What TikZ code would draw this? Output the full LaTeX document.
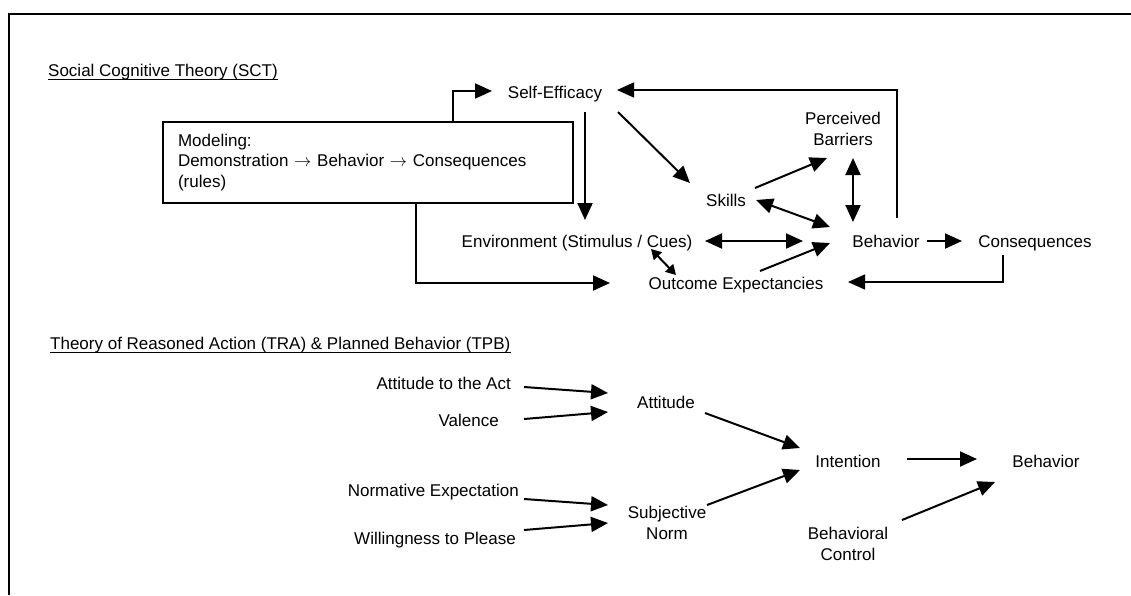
\documentclass[tikz,border=0pt]{standalone}
\usepackage{fontspec}
\setmainfont{Liberation Sans}
\usetikzlibrary{arrows.meta}
\begin{document}
\begin{tikzpicture}[x=1pt,y=-1pt,
  lbl/.style={font=\fontsize{17}{20}\selectfont, inner sep=0pt, text height=12.2pt, text depth=0pt},
  ml/.style={font=\fontsize{17}{21}\selectfont, inner sep=0pt, align=center},
  arr/.style={line width=2pt, -{Triangle[length=17pt,width=15pt]}},
  darr/.style={line width=2pt, {Triangle[length=17pt,width=15pt]}-{Triangle[length=17pt,width=15pt]}},
  smalldarr/.style={line width=2pt, {Triangle[length=10pt,width=11pt]}-{Triangle[length=10pt,width=11pt]}},
  thinarr/.style={line width=1.5pt, -{Triangle[length=17pt,width=15pt]}},
  ul/.style={line width=1.2pt},
  frame/.style={line width=2pt}]
\useasboundingbox (0,0) rectangle (1131,595);
\coordinate (fc) at (9,14);
\coordinate (fr) at (1131,14);
\coordinate (fb) at (9,595);
\draw[frame] (fr) -- (fc) -- (fb);

% ---------- SCT ----------
\node[lbl, anchor=west] (sct) at (48,70) {Social Cognitive Theory (SCT)};
\draw[ul] ([yshift=-3pt]sct.base west) -- ([yshift=-3pt]sct.base east);

\node[lbl] (se) at (555,92) {Self-Efficacy};
\node[draw, line width=2pt, minimum width=410pt, minimum height=81pt, text width=380pt,
      align=left, inner sep=0pt, font=\fontsize{17}{20.5}\selectfont] (model) at (368,162.5)
  {Modeling:\\Demonstration $\rightarrow$ Behavior $\rightarrow$ Consequences\\(rules)};
\node[lbl] (env) at (577,241) {Environment (Stimulus / Cues)};
\node[lbl] (out) at (736,283) {Outcome Expectancies};
\node[lbl] (skills) at (726,200) {Skills};
\node[ml] (pb) at (843,129) {Perceived\\Barriers};
\node[lbl] (beh) at (886,241) {Behavior};
\node[lbl] (cons) at (1035,241) {Consequences};

\draw[arr] ([shift={(85,0)}]model.north) |- ([shift={(-63,-1)}]se.center);
\draw[arr] ([shift={(30,20)}]se.center) -- ([shift={(8,-21)}]env.center);
\draw[arr] ([shift={(48,0)}]model.south) |- ([shift={(-126,0)}]out.center);
\draw[arr] ([shift={(63,20)}]se.center) -- ([shift={(-36,-17)}]skills.center);
\draw[arr] ([shift={(29,-12)}]skills.center) -- ([shift={(-16,29)}]pb.center);
\draw[darr] ([shift={(30,0)}]skills.center) -- ([shift={(-56,-14)}]beh.center);
\draw[darr] ([shift={(10,29)}]pb.center) -- ([shift={(-33,-19)}]beh.center);
\draw[darr] ([shift={(128,0)}]env.center) -- ([shift={(-83,0)}]beh.center);
\draw[arr] ([shift={(24,-12)}]out.center) -- ([shift={(-56,2)}]beh.center);
\draw[smalldarr] ([shift={(74,8)}]env.center) -- ([shift={(-60,-8)}]out.center);
\draw[arr] ([shift={(41,0)}]beh.center) -- ([shift={(-73,0)}]cons.center);
\draw[thinarr] ([shift={(-32,14)}]cons.center) |- ([shift={(112,-1)}]out.center);
\draw[thinarr] ([shift={(11,-23)}]beh.center) |- ([shift={(62,-2)}]se.center);

% ---------- TRA / TPB ----------
\node[lbl, anchor=west] (tra) at (50,343) {Theory of Reasoned Action (TRA) \& Planned Behavior (TPB)};
\draw[ul] ([yshift=-3pt]tra.base west) -- ([yshift=-3pt]tra.base east);

\node[lbl, anchor=east] (a2a) at (511,383) {Attitude to the Act};
\node[lbl, anchor=east] (val) at (499,420) {Valence};
\node[lbl, anchor=east] (ne) at (519,490) {Normative Expectation};
\node[lbl, anchor=east] (wtp) at (516,538) {Willingness to Please};
\node[lbl] (att) at (666,402) {Attitude};
\node[ml] (sn) at (667,523) {Subjective\\Norm};
\node[lbl] (int) at (848,461) {Intention};
\node[lbl] (beh2) at (1046,461) {Behavior};
\node[ml] (bc) at (848,544) {Behavioral\\Control};

\draw[arr] ([shift={(13,4)}]a2a.east) -- ([shift={(-58,-9)}]att.center);
\draw[arr] ([shift={(25,-1)}]val.east) -- ([shift={(-58,10)}]att.center);
\draw[arr] ([shift={(39,11)}]att.center) -- ([shift={(-48,-13)}]int.center);
\draw[arr] ([shift={(5,9)}]ne.east) -- ([shift={(-59,-18)}]sn.center);
\draw[arr] ([shift={(8,-8)}]wtp.east) -- ([shift={(-59,0)}]sn.center);
\draw[arr] ([shift={(40,-18)}]sn.center) -- ([shift={(-48,9)}]int.center);
\draw[arr] ([shift={(59,-2)}]int.center) -- ([shift={(-69,-2)}]beh2.center);
\draw[arr] ([shift={(54,-24)}]bc.center) -- ([shift={(-51,21)}]beh2.center);
\end{tikzpicture}
\end{document}
